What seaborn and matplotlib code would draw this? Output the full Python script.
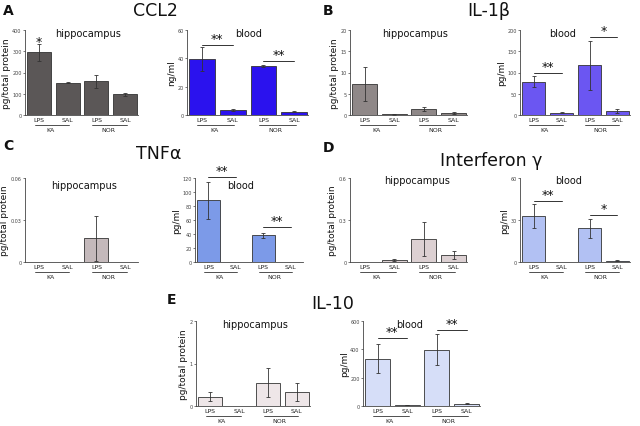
import numpy as np
import pandas as pd
import seaborn as sns
import matplotlib.pyplot as plt

sns.set_style("white")
plt.rcParams['font.family'] = ['DejaVu Sans']
plt.rcParams['text.color'] = '#111111'
plt.rcParams['axes.labelcolor'] = '#111111'

# conditions along x
treat = ["LPS", "SAL", "LPS", "SAL"]
groups = ["KA", "NOR"]

cytokines = ["CCL2", "IL-1β", "TNFα", "Interferon γ", "IL-10"]
letters = ["A", "B", "C", "D", "E"]

# hippocampus, pg/total protein
hip_mean = [[295, 152, 158, 97],
            [7.2, 0.15, 1.4, 0.5],
            [0, 0, 0.017, 0],
            [0, 0.015, 0.165, 0.05],
            [0.22, 0, 0.55, 0.33]]
hip_err = [[40, 3, 30, 8],
           [4.0, 0.05, 0.5, 0.2],
           [0, 0, 0.016, 0],
           [0, 0.01, 0.12, 0.03],
           [0.11, 0, 0.34, 0.21]]
hip_max = [400, 20, 0.06, 0.6, 2]
hip_ticks = [[0, 100, 200, 300, 400], [0, 5, 10, 15, 20], [0, 0.03, 0.06],
             [0, 0.3, 0.6], [0, 1, 2]]
hip_ticklabels = [["0", "100", "200", "300", "400"], ["0", "5", "10", "15", "20"],
                  ["0", "0.03", "0.06"], ["0", "0.3", "0.6"], ["0", "1", "2"]]

# blood
blood_mean = [[39.5, 3.5, 34.5, 2.3],
              [78, 5, 117, 9],
              [88, 0, 38.5, 0.5],
              [33, 0.3, 24, 1],
              [335, 8, 398, 15]]
blood_err = [[8.5, 0.5, 0.6, 0.5],
             [13, 1, 58, 4],
             [27, 0, 3.5, 0],
             [8.5, 0, 6.5, 0.5],
             [105, 2, 110, 3]]
blood_max = [60, 200, 120, 60, 600]
blood_ticks = [[0, 20, 40, 60], [0, 50, 100, 150, 200], [0, 20, 40, 60, 80, 100, 120],
               [0, 30, 60], [0, 200, 400, 600]]
blood_unit = ["ng/ml", "pg/ml", "pg/ml", "pg/ml", "pg/ml"]

# significance brackets (height, mark) for KA and NOR
blood_sig = [[(49.4, "**"), (38, "**")],
             [(99, "**"), (183.5, "*")],
             [(122, "**"), (50, "**")],
             [(43.6, "**"), (33.6, "*")],
             [(478, "**"), (535, "**")]]
hip_star = [(0, 345, "*"), None, None, None, None]

hip_colors = ["#5b5757", "#8f8888", "#c4b9bb", "#dcd0d2", "#eee6e8"]
blood_colors = ["#2b12ee", "#6b56f2", "#7c9ae8", "#b2c1f3", "#d6def8"]

W, H = 640, 427
fig = plt.figure(figsize=(6.4, 4.27), dpi=100)

# pixel boxes: (left, right, top, bottom)
hip_box = [(25, 138, 31, 116), (350, 467, 31, 116), (25, 138, 179, 263),
           (350, 467, 179, 263), (196, 310, 322, 407)]
blood_box = [(187, 308, 31, 116), (520, 630, 31, 116), (195, 303, 179, 263),
             (520, 630, 179, 263), (363, 480, 322, 407)]
hip_lab = [(0.56, 0.96), (0.56, 0.96), (0.52, 0.92), (0.57, 0.98), (0.52, 0.96)]
blood_lab = [(0.51, 0.96), (0.39, 0.96), (0.42, 0.92), (0.44, 0.98), (0.40, 0.96)]

title_pos = [(155, 11), (489, 11), (159, 154), (491, 161), (333, 304)]
letter_pos = [(8, 11), (328, 11), (8, 146), (328, 148), (172, 300)]


def make_ax(box):
    l, r, t, b = box
    return fig.add_axes([l / W, (H - b) / H, (r - l) / W, (b - t) / H])


def draw_panel(ax, means, errs, color, ymax, ticks, ticklabels, ylabel, name, lab):
    df = pd.DataFrame({"cond": [f"{t}{i}" for i, t in enumerate(treat)], "val": means})
    sns.barplot(data=df, x="cond", y="val", color=color, width=0.84, errorbar=None,
                edgecolor="#333333", linewidth=0.6, saturation=1, ax=ax)
    x = np.arange(len(means))
    shown = [i for i in range(len(means)) if errs[i] > 0]
    ax.errorbar(x[shown], np.array(means)[shown], yerr=np.array(errs)[shown], fmt="none",
                ecolor="#333333", elinewidth=0.6, capsize=1.2, capthick=0.6)
    ax.set_xlim(-0.49, 3.45)
    ax.set_ylim(0, ymax)
    ax.set_yticks(ticks)
    ax.set_yticklabels(ticklabels if ticklabels else [str(t) for t in ticks])
    ax.tick_params(axis="y", labelsize=3.5, length=1.5, width=0.5, pad=1, direction="out",
                   left=True, colors="#444444")
    ax.set_xticks(x)
    ax.set_xticklabels(treat)
    ax.tick_params(axis="x", labelsize=4.5, length=0, pad=1.5, colors="#222222")
    ax.set_xlabel("")
    ax.set_ylabel(ylabel, fontsize=6.5, labelpad=1)
    for s in ["top", "right"]:
        ax.spines[s].set_visible(False)
    for s in ["left", "bottom"]:
        ax.spines[s].set_linewidth(0.6)
        ax.spines[s].set_color("#444444")
    ax.text(lab[0], lab[1], name, transform=ax.transAxes, fontsize=7,
            ha="center", va="center")
    tr = ax.get_xaxis_transform()
    for gi, g in enumerate(groups):
        i = 2 * gi
        ax.plot([i - 0.15, i + 1.05], [-0.115, -0.115], transform=tr, color="#333333",
                lw=0.6, clip_on=False)
        ax.text(i + 0.4, -0.175, g, transform=tr, fontsize=4.5, ha="center", va="center",
                color="#222222")


for k in range(5):
    ax_h = make_ax(hip_box[k])
    draw_panel(ax_h, hip_mean[k], hip_err[k], hip_colors[k], hip_max[k], hip_ticks[k],
               hip_ticklabels[k], "pg/total protein", "hippocampus", hip_lab[k])
    if hip_star[k] is not None:
        i, y, m = hip_star[k]
        ax_h.text(i, y, m, fontsize=9, ha="center", va="center", clip_on=False)

    ax_b = make_ax(blood_box[k])
    draw_panel(ax_b, blood_mean[k], blood_err[k], blood_colors[k], blood_max[k],
               blood_ticks[k], None, blood_unit[k], "blood", blood_lab[k])
    for gi, (y, m) in enumerate(blood_sig[k]):
        i = 2 * gi
        ax_b.plot([i, i + 1], [y, y], color="#333333", lw=0.7, clip_on=False)
        ax_b.text(i + 0.5, y, m, fontsize=9, ha="center", va="bottom", clip_on=False)

    tx, ty = title_pos[k]
    fig.text(tx / W, 1 - ty / H, cytokines[k], fontsize=12.5, ha="center", va="center")
    lx, ly = letter_pos[k]
    fig.text(lx / W, 1 - ly / H, letters[k], fontsize=10, fontweight="bold",
             ha="center", va="center")

fig.savefig("out.png", dpi=100)
